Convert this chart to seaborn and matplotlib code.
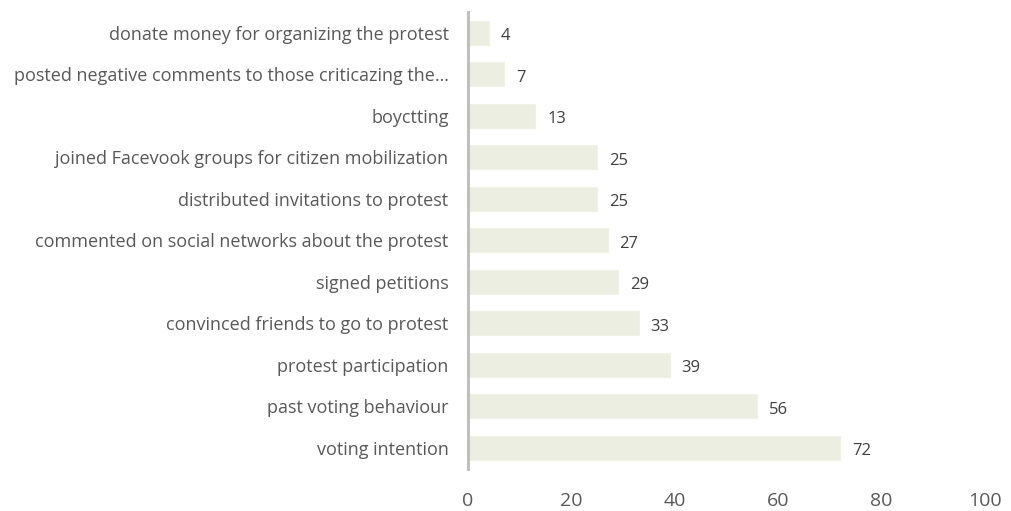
import matplotlib
matplotlib.use("Agg")
import matplotlib.pyplot as plt
import seaborn as sns
import pandas as pd

categories = [
    "donate money for organizing the protest",
    "posted negative comments to those criticazing the…",
    "boyctting",
    "joined Facevook groups for citizen mobilization",
    "distributed invitations to protest",
    "commented on social networks about the protest",
    "signed petitions",
    "convinced friends to go to protest",
    "protest participation",
    "past voting behaviour",
    "voting intention",
]
values = [4, 7, 13, 25, 25, 27, 29, 33, 39, 56, 72]
x_ticks = [0, 20, 40, 60, 80, 100]

sns.set_style("white")
plt.rcParams['font.family'] = ['Open Sans', 'DejaVu Sans']

df = pd.DataFrame({"cat": categories, "val": values})
fig = plt.figure(figsize=(10.12, 5.11), dpi=100)
ax = fig.add_axes([0.4625, 0.0827, 0.973 - 0.4625, 0.9765 - 0.0827])
sns.barplot(data=df, y="cat", x="val", orient="h", color="#EBEEE0",
            saturation=1, width=0.58, edgecolor="#F0F2E8", linewidth=0.8, ax=ax)

for i, v in enumerate(values):
    ax.text(v + 2.3, i + 0.08, str(v), va="center", ha="left", fontsize=12, color="#404040")

ax.set_xlim(0, 100)
ax.set_ylim(10.5, -0.5)
ax.set_xticks(x_ticks)
ax.set_xlabel("")
ax.set_ylabel("")
for s in ["top", "right", "bottom"]:
    ax.spines[s].set_visible(False)
ax.spines["left"].set_color("#BFBFBF")
ax.spines["left"].set_linewidth(2.2)
ax.tick_params(axis="y", length=0, pad=14, labelsize=13, labelcolor="#595959")
ax.tick_params(axis="x", length=0, pad=17, labelsize=14, labelcolor="#595959")

fig.savefig("out.png", dpi=100)
